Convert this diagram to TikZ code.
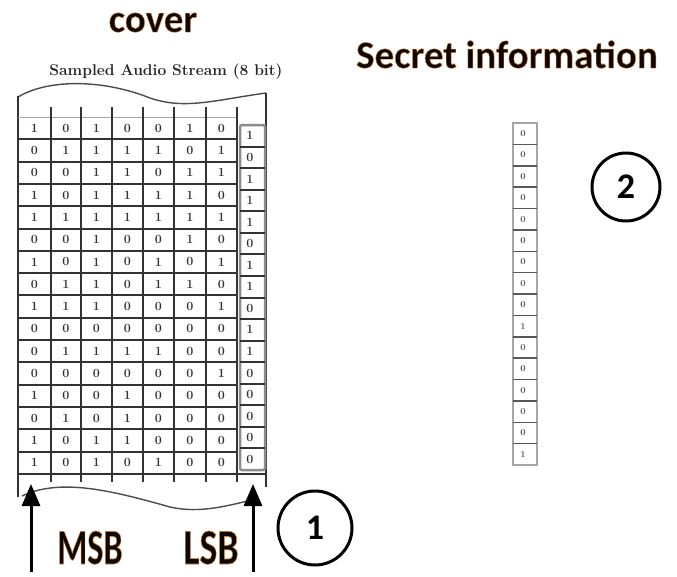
\documentclass[tikz,border=0pt]{standalone}
\usepackage{fontspec}
\newfontfamily\calibglow{Carlito Bold}[RawFeature={embolden=1.2}]
\newfontfamily\calib{Carlito Bold}
\usetikzlibrary{arrows.meta}
\newcommand\glowtxt[1]{\special{pdf:bcolor [0.05 0.03 0.02] [0.85 0.5 0.2]}#1\special{pdf:ecolor}}
\tikzset{
  titletext/.style={font=\calibglow\fontsize{39}{39}\selectfont, inner sep=0pt, anchor=base},
  bitlabel/.style={font=\calibglow\fontsize{36}{36}\selectfont, inner sep=0pt, anchor=base},
  subtitle/.style={font=\rmfamily\bfseries\fontsize{12}{12}\selectfont, inner sep=0pt, anchor=base, text=black!85},
  numcircle/.style={circle, draw=black, line width=3pt, inner sep=0pt, font=\calib\fontsize{36}{36}\selectfont},
  gridline/.style={line width=2pt, draw=black!80},
  borderline/.style={line width=2.2pt, draw=black!80},
  wave/.style={line width=1.4pt, draw=black!70},
  headline/.style={line width=1pt, draw=black!35},
  lsbbox/.style={line width=2.5pt, draw=black!45, rounded corners=2pt},
  secbox/.style={line width=2pt, draw=black!35},
  secdiv/.style={line width=1.5pt, draw=black!65},
  digit/.style={font=\rmfamily\bfseries\fontsize{12.5}{12.5}\selectfont, inner sep=0pt, text=black!80},
  smalldigit/.style={font=\rmfamily\bfseries\fontsize{9}{9}\selectfont, inner sep=0pt, text=black!65},
  bigarrow/.style={line width=3pt, draw=black, -{Triangle[width=18pt,length=22pt]}},
}
\begin{document}
\begin{tikzpicture}[x=1pt,y=-1pt]
\useasboundingbox (0,0) rectangle (677,576);
\fill[white] (0,0) rectangle (677,576);

% titles
\node[titletext] (cover) at (153,32) {\glowtxt{cover}};
\node[titletext] (secret) at (507,68) {\glowtxt{Secret information}};
\node[subtitle] (audio) at (166,75) {\resizebox{233pt}{!}{Sampled Audio Stream (8 bit)}};

% top and bottom waves, borders
\draw[wave] (18,97) .. controls (50,78) and (105,80) .. (150,98) .. controls (185,110) and (215,100) .. (266,93);
\draw[wave] (22,496) .. controls (60,478) and (110,490) .. (170,507) .. controls (200,514) and (230,505) .. (252,500);
\draw[borderline] (18,96) -- (18,497);
\draw[borderline] (266,93) -- (266,487);

% header line
\draw[headline] (18,117) -- (237,117);
% vertical column lines
\foreach \x in {51,81,112,143,174,206,237} {
  \draw[gridline] (\x,107) -- (\x,482);
}
% row lines
\foreach \k in {1,...,15} {
  \draw[gridline] (18,117+22.3*\k) -- (237,117+22.3*\k);
}
\draw[gridline] (18,474) -- (266,474);

% LSB box
\draw[lsbbox] (240,125) rectangle (265,470);
\foreach \k in {1,...,15} {
  \draw[gridline] (240,125+21.5625*\k) -- (265,125+21.5625*\k);
}

% grid digits
\foreach \vals [count=\r] in {
  {1,0,1,0,0,1,0},
  {0,1,1,1,1,0,1},
  {0,0,1,1,0,1,1},
  {1,0,1,1,1,1,0},
  {1,1,1,1,1,1,1},
  {0,0,1,0,0,1,0},
  {1,0,1,0,1,0,1},
  {0,1,1,0,1,1,0},
  {1,1,1,0,0,0,1},
  {0,0,0,0,0,0,0},
  {0,1,1,1,1,0,0},
  {0,0,0,0,0,0,1},
  {1,0,0,1,0,0,0},
  {0,1,0,1,0,0,0},
  {1,0,1,1,0,0,0},
  {1,0,1,0,1,0,0}} {
  \foreach \v [count=\c] in \vals {
    \pgfmathsetmacro\xx{{34.5,66,96.5,127.5,158.5,190,221.5}[\c-1]}
    \node[digit] (d-\r-\c) at (\xx,117+22.3*\r-11.15) {\v};
  }
}
% LSB digits
\foreach \v [count=\k] in {1,0,1,1,1,0,1,1,0,1,1,0,0,0,0,0} {
  \node[digit] (l-\k) at (250,125+21.5625*\k-10.78) {\v};
}

% secret column
\draw[secbox] (513,123) rectangle (537,465);
\foreach \k in {1,...,15} {
  \draw[secdiv] (513,123+21.375*\k) -- (537,123+21.375*\k);
}
\foreach \v [count=\k] in {0,0,0,0,0,0,0,0,0,1,0,0,0,0,0,1} {
  \node[smalldigit] (s-\k) at (523,123+21.375*\k-10.69) {\v};
}

% circles
\node[numcircle, minimum size=68pt] (c2) at (626,187) {2};
\node[numcircle, minimum size=74pt] (c1) at (315,528) {1};

% arrows and labels
\coordinate (msbtail) at (31,572);
\coordinate (msbtip) at (31,484);
\coordinate (lsbtail) at (253,572);
\coordinate (lsbtip) at (253,484);
\draw[bigarrow] (msbtail) -- (msbtip);
\draw[bigarrow] (lsbtail) -- (lsbtip);
\node[bitlabel] (msb) at (90,564) {\scalebox{0.95}[1.4]{\glowtxt{MSB}}};
\node[bitlabel] (lsb) at (211,564) {\scalebox{1.05}[1.4]{\glowtxt{LSB}}};
\end{tikzpicture}
\end{document}
